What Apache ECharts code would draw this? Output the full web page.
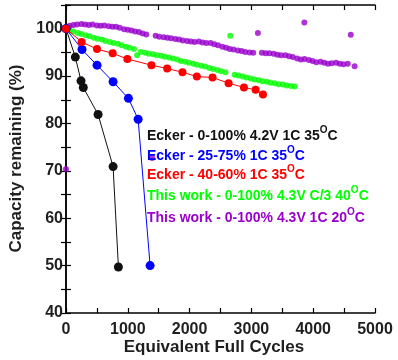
<!DOCTYPE html>
<html><head><meta charset="utf-8">
<script src="https://cdn.jsdelivr.net/npm/echarts@6/dist/echarts.min.js"></script>
<style>html,body{margin:0;padding:0;background:#fff}#c{width:398px;height:360px}</style>
</head><body><div id="c"></div>
<script>
const xTicks = [0, 1000, 2000, 3000, 4000, 5000];
const yTicks = [40, 50, 60, 70, 80, 90, 100];
const seriesNames = [
  'Ecker - 0-100% 4.2V 1C 35',
  'Ecker - 25-75% 1C 35',
  'Ecker - 40-60% 1C 35',
  'This work - 0-100% 4.3V C/3 40',
  'This work - 0-100% 4.3V 1C 20'
];
const eckerFull = [[0,100],[151,94.0],[243,89.0],[280,87.6],[519,81.9],[762,70.9],[848,49.7]];
const ecker2575 = [[0,100],[259,95.6],[502,92.3],[762,88.8],[1010,85.3],[1167,80.9],[1361,50.0]];
const ecker4060 = [[0,100],[253,97.2],[502,95.7],[755,94.8],[993,93.6],[1383,92.3],[1637,91.6],[1885,90.8],[2117,89.9],[2371,89.7],[2631,88.5],[2879,87.6],[3068,87.1],[3187,86.1]];
const workC3 = [[0,100.0],[60,99.6],[120,99.4],[190,99.1],[250,98.9],[320,98.6],[380,98.4],[450,98.1],[510,97.9],[580,97.7],[640,97.4],[710,97.2],[770,97.0],[840,96.8],[900,96.5],[970,96.2],[1030,96.0],[1100,95.7],[1150,94.4],[1210,95.1],[1280,94.9],[1340,94.7],[1410,94.6],[1470,94.4],[1540,94.3],[1600,94.1],[1670,93.9],[1730,93.7],[1800,93.5],[1860,93.2],[1930,93.0],[1990,92.8],[2060,92.6],[2120,92.4],[2190,92.2],[2250,92.0],[2320,91.7],[2380,91.5],[2450,91.3],[2510,91.0],[2580,90.8],[2658,98.5],[2730,90.3],[2790,90.1],[2860,89.9],[2920,89.7],[2990,89.5],[3050,89.3],[3120,89.1],[3180,88.9],[3250,88.8],[3310,88.6],[3380,88.5],[3440,88.3],[3510,88.2],[3570,88.0],[3640,87.9],[3700,87.8]];
const work1C = [[0,70.4],[0,100.0],[60,100.6],[120,100.8],[180,100.9],[250,101.0],[310,100.9],[370,100.8],[430,100.9],[500,100.7],[560,100.6],[620,100.7],[690,100.5],[750,100.4],[810,100.4],[870,100.2],[940,99.9],[1000,99.8],[1060,99.6],[1120,99.4],[1180,99.3],[1240,99.0],[1300,98.8],[1394,72.7],[1450,98.5],[1510,98.3],[1580,98.2],[1640,98.1],[1700,98.0],[1770,97.8],[1830,97.7],[1890,97.5],[1960,97.4],[2020,97.3],[2080,97.2],[2150,97.3],[2210,97.1],[2270,97.0],[2340,97.0],[2400,96.7],[2460,96.5],[2530,96.2],[2590,96.0],[2650,95.7],[2710,95.6],[2780,95.4],[2840,95.3],[2900,95.1],[2970,95.0],[3030,94.9],[3105,99.1],[3170,94.9],[3230,94.8],[3290,94.8],[3360,94.7],[3420,94.5],[3480,94.4],[3550,94.4],[3610,94.2],[3670,94.0],[3740,93.7],[3800,93.5],[3857,101.3],[3860,93.6],[3930,93.4],[3990,93.2],[4050,92.9],[4120,93.0],[4180,92.8],[4240,92.6],[4300,92.7],[4370,92.8],[4430,92.6],[4490,92.5],[4560,92.6],[4608,98.7],[4670,92.1]];
const colors = ['#111111', '#0000ff', '#ff0000', '#00ff00', '#9900cc'];

const FONT = '"Liberation Sans", Arial, sans-serif';
const chart = echarts.init(document.getElementById('c'), null, {renderer: 'canvas'});
const axisLine = {show: true, lineStyle: {color: '#000', width: 1.5}};
const mkX = (pos, labels) => ({
  type: 'value', position: pos, min: 0, max: 5000, interval: 1000,
  axisLine, splitLine: {show: false},
  axisTick: {show: true, inside: true, length: 5, lineStyle: {color: '#000', width: 1.2}},
  minorTick: {show: true, splitNumber: 2, length: 5, lineStyle: {color: '#000', width: 1.2}},
  axisLabel: {show: labels, fontFamily: FONT, fontSize: 16, fontWeight: 'bold', color: '#1f1f1f', margin: 9,
    formatter: v => xTicks.includes(v) ? String(v) : ''}
});
const mkY = (pos, labels) => ({
  type: 'value', position: pos, min: 40, max: 105, interval: 10,
  axisLine, splitLine: {show: false},
  axisTick: {show: true, inside: true, length: 5, lineStyle: {color: '#000', width: 1.2}},
  minorTick: {show: true, splitNumber: 2, length: 5, lineStyle: {color: '#000', width: 1.2}},
  axisLabel: {show: labels, fontFamily: FONT, fontSize: 16, fontWeight: 'bold', color: '#1f1f1f', margin: 3,
    formatter: v => yTicks.includes(v) ? String(v) : ''}
});
const lineSeries = (name, data, color, size) => ({
  name, type: 'line', data, symbol: 'circle', symbolSize: size, showSymbol: true,
  lineStyle: {color, width: 1}, itemStyle: {color}, animation: false, z: 3
});
const dotSeries = (name, data, color, size) => ({
  name, type: 'scatter', data, symbol: 'circle', symbolSize: size,
  itemStyle: {color}, animation: false, z: 2
});
const legendY = [134, 154, 173.5, 194.5, 216];
chart.setOption({
  animation: false,
  grid: {left: 66, right: 23, top: 5, bottom: 47},
  xAxis: [mkX('bottom', true), mkX('top', false)],
  yAxis: [mkY('left', true), mkY('right', false)],
  series: [
    dotSeries(seriesNames[3], workC3, colors[3], 6),
    dotSeries(seriesNames[4], work1C, colors[4], 6),
    lineSeries(seriesNames[0], eckerFull, colors[0], 9),
    lineSeries(seriesNames[1], ecker2575, colors[1], 9),
    lineSeries(seriesNames[2], ecker4060, colors[2], 8)
  ],
  graphic: seriesNames.map((n, i) => ({
    type: 'text', left: 147, top: legendY[i] - 9, z: 10,
    style: {
      text: '{a|' + n + '}{s|O}{a|C}',
      rich: {
        a: {fontFamily: FONT, fontSize: 14, fontWeight: 'bold', fill: colors[i], color: colors[i], lineHeight: 18, verticalAlign: 'bottom'},
        s: {fontFamily: FONT, fontSize: 10, fontWeight: 'bold', fill: colors[i], color: colors[i], lineHeight: 18, verticalAlign: 'top'}
      }
    }
  })).concat([
    {type: 'text', x: 214, y: 347, z: 10, style: {text: 'Equivalent Full Cycles', font: 'bold 17px ' + FONT, fill: '#1f1f1f', align: 'center', verticalAlign: 'middle'}},
    {type: 'text', x: 16, y: 158.5, rotation: Math.PI / 2, z: 10, style: {text: 'Capacity remaining (%)', font: 'bold 17px ' + FONT, fill: '#1f1f1f', align: 'center', verticalAlign: 'middle'}}
  ])
});
</script></body></html>
